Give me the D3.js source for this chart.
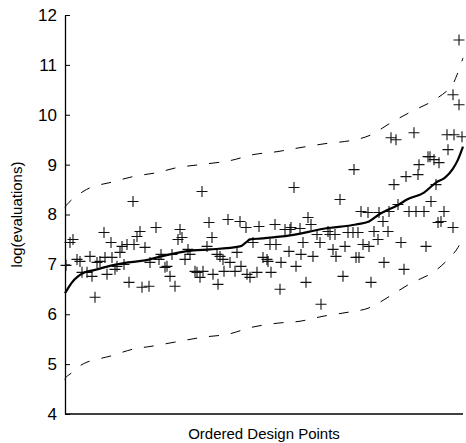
<!DOCTYPE html>
<html>
<head>
<meta charset="utf-8">
<script src="https://cdn.jsdelivr.net/npm/d3@7"></script>
<style>
  body { margin: 0; background: #fff; }
  svg text { font-family: "Liberation Sans", Arial, sans-serif; fill: #000; }
</style>
</head>
<body>
<div id="chart"></div>
<script>
var svgWidth = 466;
var svgHeight = 443;

var margin = { top: 15, right: 3, bottom: 29, left: 65 };
var width = svgWidth - margin.left - margin.right;
var height = svgHeight - margin.top - margin.bottom;

// observed log(evaluations) at each ordered design point (index, value)
var pointIdx = [0.5, 2.5, 4, 6, 7.5, 8.5, 11, 12.5, 13.5, 15, 16, 17.5, 19.5, 20, 21, 23, 23.5, 25, 26, 27.5,
  28.5, 29.5, 31, 32, 34, 34.5, 36, 37.5, 38.5, 40, 42, 42.5, 45.5, 47, 48, 50, 51, 52.5, 53.5, 55,
  56.5, 57.5, 58.5, 60, 61.5, 62.5, 65, 66, 67.5, 68.5, 69, 71, 72, 73.5, 74, 76, 76.5, 77.5, 79, 79.5,
  81.5, 82.5, 85, 86, 87.5, 88, 90.5, 91, 92.5, 94, 96, 97, 99, 101, 101.5, 102.5, 103, 105, 105.5, 107.5,
  108, 110, 112.5, 113, 112, 114.5, 115.5, 117.5, 118, 119, 120.5, 121.5, 123, 124, 126, 127.5, 128, 131.5, 132.5, 134,
  135, 135.5, 137.5, 139, 140, 141.5, 144, 144.5, 145.5, 146.5, 147, 148, 149, 151.5, 152, 153, 154.5, 156.5,
  157, 159, 159.5, 161.5, 162, 163, 165.5, 164.5, 166.5, 168, 169.5, 170.5, 172, 175.5, 174.5, 176.5, 177, 179.5,
  180.5, 181.5, 182.5, 184.5, 183, 185.5, 186.5, 187, 188, 189.5, 191.5, 194, 191, 194.5, 198.5, 194, 197, 197];
var pointVal = [6.98, 7.44, 7.50, 7.10, 7.06, 6.84, 6.84, 7.16, 6.76, 6.34, 7.04, 7.06, 7.64, 7.14, 6.80, 7.44, 7.14, 6.90, 6.96, 7.24,
  7.36, 7.00, 7.40, 6.64, 8.26, 7.40, 7.56, 7.66, 6.54, 7.34, 6.56, 7.04, 7.74, 7.10, 7.20, 6.94, 6.96, 6.76, 7.20, 6.56,
  7.50, 7.70, 7.54, 7.10, 7.30, 7.20, 6.86, 6.84, 6.74, 8.46, 6.86, 7.36, 7.84, 7.54, 6.80, 7.20, 6.60, 7.16, 7.10, 6.86,
  7.90, 7.04, 6.86, 7.24, 7.86, 6.96, 7.74, 6.80, 6.74, 7.44, 6.84, 7.76, 7.14, 7.10, 7.06, 7.40, 6.84, 7.80, 7.40, 6.50,
  7.04, 7.70, 7.70, 7.74, 7.26, 8.54, 6.96, 7.72, 7.20, 7.44, 6.64, 7.94, 7.80, 7.16, 7.60, 7.44, 6.20, 7.66, 7.60, 7.30,
  7.60, 7.16, 8.30, 6.76, 7.36, 7.64, 7.64, 8.90, 7.14, 7.64, 7.14, 8.06, 7.40, 8.04, 7.36, 6.64, 7.66, 7.50,
  8.04, 7.86, 7.04, 7.66, 8.06, 9.54, 9.50, 8.60, 8.20, 7.44, 6.90, 8.76, 8.06, 8.06, 9.64, 8.80, 9.00, 8.06,
  7.36, 9.16, 9.16, 9.10, 8.26, 8.60, 7.84, 9.04, 7.86, 8.06, 9.30, 7.74, 9.60, 9.60, 9.56, 10.40, 10.20, 11.50];

// ordered predicted value and dashed bounds (index, value)
var trendIdx = [0, 1.5, 3.5, 6.5, 10, 14, 23.5, 31.5, 40, 48, 64, 72.5, 87.5, 90.5, 92.5, 98.5, 112.5, 130, 145.5,
  152, 157, 167, 171, 179.5, 185.5, 190, 194, 196.5, 199];
var trendVal = [6.42, 6.52, 6.64, 6.76, 6.84, 6.88, 6.98, 7.04, 7.08, 7.16, 7.28, 7.30, 7.36, 7.44, 7.50, 7.52, 7.58, 7.72, 7.80,
  7.86, 8.00, 8.20, 8.30, 8.44, 8.64, 8.74, 8.92, 9.10, 9.36];

var upperIdx = [0, 1, 3.5, 9, 14, 22.5, 34, 46, 56, 67.5, 82.5, 94, 106, 117.5, 130, 142.5, 152, 163, 173, 184, 193, 196, 199];
var upperVal = [8.14, 8.20, 8.30, 8.46, 8.56, 8.64, 8.76, 8.84, 8.94, 9.00, 9.08, 9.20, 9.26, 9.34, 9.42, 9.48, 9.58, 9.84,
  10.06, 10.28, 10.56, 10.80, 11.14];

var lowerIdx = [0, 0.5, 2.5, 6.5, 11, 22.5, 34, 43.5, 57.5, 69, 81.5, 93.5, 106, 117.5, 129, 141.5, 151.5, 161.5, 172, 184,
  193, 196.5, 199];
var lowerVal = [4.68, 4.74, 4.80, 4.94, 5.04, 5.16, 5.30, 5.36, 5.46, 5.54, 5.60, 5.74, 5.82, 5.86, 5.96, 6.04, 6.12, 6.34,
  6.60, 6.84, 7.16, 7.34, 7.56];

var yTicks = [4, 5, 6, 7, 8, 9, 10, 11, 12];

var svg = d3.select("#chart")
  .append("svg")
  .attr("width", svgWidth)
  .attr("height", svgHeight);

var chartGroup = svg.append("g")
  .attr("transform", `translate(${margin.left}, ${margin.top})`);

var xScale = d3.scaleLinear().domain([0, 199]).range([0, width]);
var yScale = d3.scaleLinear().domain([4, 12]).range([height, 0]);

// left axis, ticks pointing inward
var leftAxis = d3.axisLeft(yScale).tickValues(yTicks).tickSizeInner(-5).tickSizeOuter(0).tickPadding(8);
var yAxisG = chartGroup.append("g").call(leftAxis);
yAxisG.selectAll("text").style("font-size", "17px");
yAxisG.select(".domain").attr("stroke-width", 1.3);

// bottom axis: just the line
chartGroup.append("line")
  .attr("x1", 0).attr("x2", width)
  .attr("y1", height).attr("y2", height)
  .attr("stroke", "#000")
  .attr("stroke-width", 1.3);

function pairs(xs, ys) {
  return xs.map((x, i) => [x, ys[i]]);
}

var line = d3.line()
  .x(d => xScale(d[0]))
  .y(d => yScale(d[1]))
  .curve(d3.curveMonotoneX);

var smooth = d3.line()
  .x(d => xScale(d[0]))
  .y(d => yScale(d[1]))
  .curve(d3.curveCatmullRom.alpha(0.5));

// dashed bounds
[pairs(upperIdx, upperVal), pairs(lowerIdx, lowerVal)].forEach(function(band) {
  chartGroup.append("path")
    .datum(band)
    .attr("d", smooth)
    .attr("fill", "none")
    .attr("stroke", "#000")
    .attr("stroke-width", 1)
    .attr("stroke-dasharray", "10,12");
});

// crosses
var s = 5.5;
chartGroup.append("g")
  .selectAll("path")
  .data(pairs(pointIdx, pointVal))
  .enter()
  .append("path")
  .attr("d", function(d) {
    var cx = xScale(d[0]), cy = yScale(d[1]);
    return `M${cx - s},${cy}H${cx + s}M${cx},${cy - s}V${cy + s}`;
  })
  .attr("stroke", "#111")
  .attr("stroke-width", 1.1)
  .attr("fill", "none");

// solid ordered line
chartGroup.append("path")
  .datum(pairs(trendIdx, trendVal))
  .attr("d", line)
  .attr("fill", "none")
  .attr("stroke", "#000")
  .attr("stroke-width", 2.2);

// labels
svg.append("text")
  .attr("x", margin.left + width / 2)
  .attr("y", 439)
  .attr("text-anchor", "middle")
  .style("font-size", "15px")
  .text("Ordered Design Points");

svg.append("text")
  .attr("transform", `translate(22, ${margin.top + height / 2}) rotate(-90)`)
  .attr("text-anchor", "middle")
  .style("font-size", "15px")
  .text("log(evaluations)");
</script>
</body>
</html>
